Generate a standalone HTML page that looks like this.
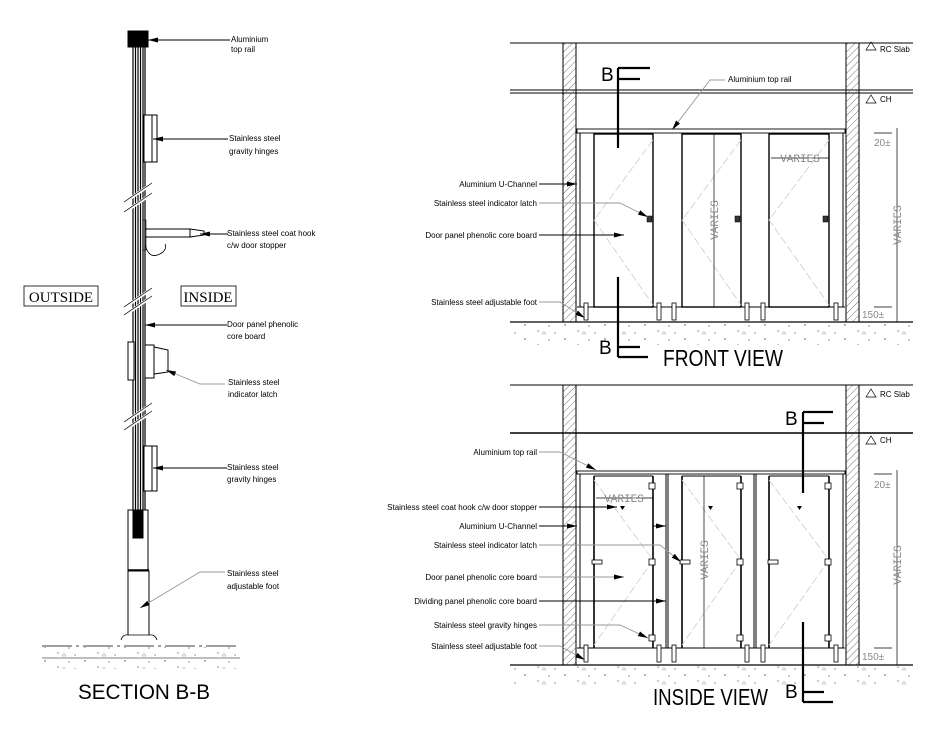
<!DOCTYPE html>
<html><head><meta charset="utf-8"><style>
html,body{margin:0;padding:0;background:#fff}
svg{display:block}
text{font-family:"Liberation Sans",sans-serif}
.l{font-size:8px;fill:#000}
.d{stroke:#ccc;stroke-width:.8;fill:none;stroke-dasharray:8 3}
.v{font-size:11px;fill:#888;font-family:'Liberation Mono',monospace}
</style></head><body>
<svg width="939" height="740" viewBox="0 0 939 740" xmlns="http://www.w3.org/2000/svg">
<defs>
<pattern id="h" width="5" height="5" patternUnits="userSpaceOnUse" patternTransform="rotate(45)"><line x1="0" y1="0" x2="0" y2="5" stroke="#555" stroke-width=".8"/></pattern>
<pattern id="st" width="40" height="14" patternUnits="userSpaceOnUse"><circle cx="5" cy="3" r=".7" fill="#444"/><circle cx="18" cy="9" r=".6" fill="#444"/><circle cx="29" cy="4" r=".6" fill="#444"/><circle cx="35" cy="11" r=".6" fill="#444"/><path d="M22,12 l2,-3 l2,3z" fill="none" stroke="#999" stroke-width=".5"/></pattern>
<marker id="a" markerWidth="10" markerHeight="6" refX="10" refY="3" orient="auto" markerUnits="userSpaceOnUse"><path d="M0,0.5 L10,3 L0,5.5z" fill="#000"/></marker>
</defs>

<!-- ================= SECTION B-B ================= -->
<g stroke="#000" fill="none">
<rect x="133" y="46" width="12" height="466" fill="#fff" stroke-width="1.2"/>
<line x1="135.5" y1="46" x2="135.5" y2="512" stroke-width="1.2"/>
<line x1="138" y1="46" x2="138" y2="512" stroke-width="1.2"/>
<line x1="140.5" y1="46" x2="140.5" y2="512" stroke-width="1.2"/>
<line x1="143" y1="46" x2="143" y2="512" stroke-width="1.2"/>
<rect x="128" y="31" width="20" height="16" fill="#000"/>
<rect x="144" y="115" width="8" height="47" fill="#fff"/><rect x="152" y="115" width="5" height="47" fill="#fff"/>
<rect x="145" y="229" width="45" height="8" fill="#fff"/>
<path d="M190,229 L204,231 L204,235 L190,237z" fill="#fff"/>
<path d="M145,244 q4,18 18,8 q4,-4 2,-8" stroke-width=".8"/>
<rect x="143" y="220" width="3" height="30" stroke-width=".6"/>
<rect x="128" y="342" width="6" height="38" fill="#fff"/>
<rect x="145" y="345" width="9" height="33" fill="#fff"/>
<path d="M154,347 L168,350 L168,372 L154,374z" fill="#fff"/>
<rect x="144" y="446" width="8" height="45" fill="#fff"/><rect x="152" y="446" width="5" height="45" fill="#fff"/>
<rect x="128" y="510" width="20" height="60" fill="#fff"/>
<rect x="133" y="510" width="10" height="28" fill="#000"/>
<line x1="128" y1="570" x2="149" y2="570" stroke-width="1.5"/>
<rect x="128" y="571" width="21" height="65" fill="#fff"/>
<path d="M121,640 q2,-6 7,-5 L149,635 q6,-1 8,5" fill="#fff" stroke-width=".8"/>
<line x1="42" y1="646" x2="240" y2="646" stroke-width=".8" stroke-dasharray="30 4 3 4"/>
<line x1="42" y1="658" x2="240" y2="658" stroke-width=".6"/>
</g>
<rect x="42" y="647" width="198" height="22" fill="url(#st)"/>
<g stroke="#fff" stroke-width="3">
<line x1="128" y1="200" x2="150" y2="185"/><line x1="128" y1="210" x2="150" y2="195"/>
<line x1="128" y1="305" x2="150" y2="290"/><line x1="128" y1="313" x2="150" y2="298"/>
<line x1="128" y1="420" x2="150" y2="405"/><line x1="128" y1="428" x2="150" y2="413"/>
</g>
<g stroke="#000" stroke-width=".7">
<line x1="124" y1="202" x2="152" y2="183"/><line x1="124" y1="212" x2="152" y2="193"/>
<line x1="124" y1="307" x2="152" y2="288"/><line x1="124" y1="315" x2="152" y2="296"/>
<line x1="124" y1="422" x2="152" y2="403"/><line x1="124" y1="430" x2="152" y2="411"/>
</g>
<g stroke="#000" stroke-width=".9" fill="none" marker-end="url(#a)">
<line x1="230" y1="40" x2="148" y2="40"/>
<line x1="228" y1="139" x2="153" y2="139"/>
<line x1="228" y1="234" x2="200" y2="234"/>
<line x1="227" y1="325" x2="145" y2="325"/>
<polyline points="225,384 200,384 166,370" stroke="#999"/>
<line x1="227" y1="468" x2="153" y2="468"/>
<polyline points="225,572 200,572 140,608" stroke="#999"/>
</g>
<g class="l">
<text x="231" y="42">Aluminium</text><text x="231" y="52">top rail</text>
<text x="229" y="141">Stainless steel</text><text x="229" y="154">gravity hinges</text>
<text x="227" y="236">Stainless steel coat hook</text><text x="227" y="248">c/w door stopper</text>
<text x="227" y="327">Door panel phenolic</text><text x="227" y="339">core board</text>
<text x="228" y="385">Stainless steel</text><text x="228" y="397">indicator latch</text>
<text x="227" y="470">Stainless steel</text><text x="227" y="482">gravity hinges</text>
<text x="227" y="576">Stainless steel</text><text x="227" y="589">adjustable foot</text>
</g>
<rect x="24" y="286" width="74" height="20" fill="none" stroke="#000" stroke-width=".8"/>
<text x="61" y="302" text-anchor="middle" style="font-family:'Liberation Serif',serif;font-size:15px">OUTSIDE</text>
<rect x="181" y="286" width="55" height="20" fill="none" stroke="#000" stroke-width=".8"/>
<text x="208" y="302" text-anchor="middle" style="font-family:'Liberation Serif',serif;font-size:15px">INSIDE</text>
<text x="144" y="699" text-anchor="middle" style="font-size:21px" textLength="132" lengthAdjust="spacingAndGlyphs">SECTION B-B</text>

<!-- ================= FRONT VIEW ================= -->
<g stroke="#000" fill="none">
<line x1="510" y1="43" x2="913" y2="43" stroke-width="1"/>
<line x1="510" y1="90" x2="913" y2="90" stroke-width="1"/>
<line x1="510" y1="93" x2="913" y2="93" stroke-width="1"/>
<rect x="563" y="43" width="13" height="279" fill="url(#h)" stroke-width="1"/>
<rect x="846" y="43" width="13" height="279" fill="url(#h)" stroke-width="1"/>
<rect x="577" y="129" width="268" height="4" stroke-width=".9"/>
<line x1="580" y1="133" x2="580" y2="307"/><line x1="843" y1="133" x2="843" y2="307"/>
<line x1="577" y1="307" x2="845" y2="307"/>
<rect x="594" y="134" width="59" height="173" stroke-width="1.4"/>
<rect x="682" y="134" width="59" height="173" stroke-width="1.4"/>
<rect x="769" y="134" width="60" height="173" stroke-width="1.4"/>
<line x1="510" y1="322" x2="913" y2="322" stroke-width="1.2"/>
</g>
<rect x="510" y="323" width="400" height="22" fill="url(#st)"/>
<g class="d">
<polyline points="653,140 594,220 653,305"/><polyline points="741,140 682,220 741,305"/><polyline points="829,140 769,220 829,305"/>
</g>
<g fill="#fff" stroke="#000" stroke-width=".8">
<rect x="584" y="303" width="4" height="17"/><rect x="657" y="303" width="4" height="17"/><rect x="672" y="303" width="4" height="17"/>
<rect x="745" y="303" width="4" height="17"/><rect x="761" y="303" width="4" height="17"/><rect x="834" y="303" width="4" height="17"/>
</g>
<g fill="#333" stroke="#000" stroke-width=".5"><rect x="647" y="216" width="5" height="6"/><rect x="735" y="216" width="5" height="6"/><rect x="823" y="216" width="5" height="6"/></g>
<g stroke="#000" fill="none" stroke-width="2.2">
<line x1="618" y1="68" x2="618" y2="148"/><line x1="618" y1="68" x2="650" y2="68"/><line x1="618" y1="79" x2="640" y2="79"/>
<line x1="618" y1="277" x2="618" y2="357"/><line x1="618" y1="357" x2="648" y2="357"/><line x1="618" y1="347" x2="640" y2="347"/>
</g>
<text x="601" y="81" style="font-size:19px">B</text>
<text x="599" y="354" style="font-size:19px">B</text>
<text x="663" y="366" style="font-size:23px" textLength="120" lengthAdjust="spacingAndGlyphs">FRONT VIEW</text>
<g stroke="#000" stroke-width=".9" fill="none" marker-end="url(#a)">
<line x1="539" y1="184" x2="577" y2="184"/>
<polyline points="539,203 620,203 648,217" stroke="#999"/>
<line x1="539" y1="235" x2="624" y2="235"/>
<polyline points="539,302 560,302 585,318" stroke="#999"/>
<polyline points="725,80 710,80 672,130" stroke="#999"/>
</g>
<g class="l" text-anchor="end">
<text x="537" y="187">Aluminium U-Channel</text>
<text x="537" y="206">Stainless steel indicator latch</text>
<text x="537" y="238">Door panel phenolic core board</text>
<text x="537" y="305">Stainless steel adjustable foot</text>
</g>
<text x="728" y="82" class="l">Aluminium top rail</text>
<g stroke="#000" stroke-width=".7" fill="none">
<path d="M866,50 l5,-8 l5,8z"/><path d="M866,103 l5,-8 l5,8z"/>
<line x1="897" y1="128" x2="897" y2="322"/>
<line x1="874" y1="133" x2="892" y2="133"/><line x1="874" y1="307" x2="892" y2="307"/>
<line x1="714" y1="134" x2="714" y2="307"/>
<line x1="771" y1="158" x2="829" y2="158"/>
</g>
<text x="874" y="146" style="font-size:10px;fill:#888">20±</text>
<text x="862" y="318" style="font-size:10px;fill:#888">150±</text>
<text x="880" y="52" class="l">RC Slab</text><text x="880" y="102" class="l">CH</text>
<text x="800" y="162" text-anchor="middle" class="v">VARIES</text>
<text transform="translate(718,220) rotate(-90)" text-anchor="middle" class="v">VARIES</text>
<text transform="translate(901,225) rotate(-90)" text-anchor="middle" class="v">VARIES</text>

<!-- INSIDE VIEW -->
<g stroke="#000" fill="none">
<line x1="510" y1="385" x2="913" y2="385" stroke-width="1"/>
<line x1="510" y1="433" x2="913" y2="433" stroke-width="1.6"/>
<rect x="563" y="385" width="13" height="280" fill="url(#h)" stroke-width="1"/>
<rect x="846" y="385" width="13" height="280" fill="url(#h)" stroke-width="1"/>
<rect x="577" y="471" width="268" height="3" stroke-width=".9"/>
<line x1="580" y1="474" x2="580" y2="648"/><line x1="843" y1="474" x2="843" y2="648"/>
<line x1="577" y1="648" x2="845" y2="648"/>
<line x1="594" y1="476" x2="653" y2="476"/><line x1="682" y1="476" x2="741" y2="476"/><line x1="769" y1="476" x2="829" y2="476"/>
<g stroke-width="1.6">
<line x1="594" y1="476" x2="594" y2="648"/><line x1="653" y1="476" x2="653" y2="648"/>
<line x1="682" y1="476" x2="682" y2="648"/><line x1="741" y1="476" x2="741" y2="648"/>
<line x1="769" y1="476" x2="769" y2="648"/><line x1="829" y1="476" x2="829" y2="648"/>
</g>
<line x1="666" y1="474" x2="666" y2="648"/><line x1="668" y1="474" x2="668" y2="648"/>
<line x1="754" y1="474" x2="754" y2="648"/><line x1="756" y1="474" x2="756" y2="648"/>
<line x1="510" y1="665" x2="913" y2="665" stroke-width="1.2"/>
</g>
<rect x="510" y="666" width="400" height="22" fill="url(#st)"/>
<g class="d">
<polyline points="594,480 653,560 594,645"/><polyline points="682,480 741,560 682,645"/><polyline points="769,480 829,560 769,645"/>
</g>
<g fill="#fff" stroke="#000" stroke-width=".8">
<rect x="584" y="645" width="4" height="17"/><rect x="657" y="645" width="4" height="17"/><rect x="672" y="645" width="4" height="17"/>
<rect x="745" y="645" width="4" height="17"/><rect x="761" y="645" width="4" height="17"/><rect x="834" y="645" width="4" height="17"/>
<rect x="649" y="483" width="6" height="6"/><rect x="737" y="483" width="6" height="6"/><rect x="825" y="483" width="6" height="6"/>
<rect x="649" y="559" width="6" height="6"/><rect x="737" y="559" width="6" height="6"/><rect x="825" y="559" width="6" height="6"/>
<rect x="649" y="635" width="6" height="6"/><rect x="737" y="635" width="6" height="6"/><rect x="825" y="635" width="6" height="6"/>
<rect x="592" y="560" width="10" height="4"/><rect x="680" y="560" width="10" height="4"/><rect x="768" y="560" width="10" height="4"/>
</g>
<g fill="#000"><path d="M620,506 h5 l-2.5,4z"/><path d="M708,506 h5 l-2.5,4z"/><path d="M797,506 h5 l-2.5,4z"/></g>
<g stroke="#000" fill="none" stroke-width="2.2">
<line x1="803" y1="412" x2="803" y2="493"/><line x1="803" y1="412" x2="833" y2="412"/><line x1="803" y1="423" x2="824" y2="423"/>
<line x1="803" y1="622" x2="803" y2="702"/><line x1="803" y1="702" x2="833" y2="702"/><line x1="803" y1="692" x2="824" y2="692"/>
</g>
<text x="785" y="425" style="font-size:19px">B</text>
<text x="785" y="698" style="font-size:19px">B</text>
<text x="653" y="705" style="font-size:23px" textLength="115" lengthAdjust="spacingAndGlyphs">INSIDE VIEW</text>
<g stroke="#000" stroke-width=".9" fill="none" marker-end="url(#a)">
<polyline points="539,452 560,452 596,470" stroke="#999"/>
<line x1="539" y1="507" x2="617" y2="507"/>
<line x1="539" y1="526" x2="577" y2="526"/>
<line x1="653" y1="526" x2="666" y2="526"/>
<polyline points="539,545 660,545 681,562" stroke="#999"/>
<line x1="539" y1="577" x2="624" y2="577" stroke="#999"/>
<line x1="539" y1="601" x2="666" y2="601"/>
<polyline points="539,625 620,625 648,638" stroke="#999"/>
<polyline points="539,646 560,646 585,660" stroke="#999"/>
</g>
<g class="l" text-anchor="end">
<text x="537" y="455">Aluminium top rail</text>
<text x="537" y="510">Stainless steel coat hook c/w door stopper</text>
<text x="537" y="529">Aluminium U-Channel</text>
<text x="537" y="548">Stainless steel indicator latch</text>
<text x="537" y="580">Door panel phenolic core board</text>
<text x="537" y="604">Dividing panel phenolic core board</text>
<text x="537" y="628">Stainless steel gravity hinges</text>
<text x="537" y="649">Stainless steel adjustable foot</text>
</g>
<g stroke="#000" stroke-width=".7" fill="none">
<path d="M866,397 l5,-8 l5,8z"/><path d="M866,444 l5,-8 l5,8z"/>
<line x1="897" y1="470" x2="897" y2="665"/>
<line x1="874" y1="474" x2="892" y2="474"/><line x1="874" y1="648" x2="892" y2="648"/>
<line x1="704" y1="476" x2="704" y2="648"/>
<line x1="596" y1="498" x2="653" y2="498"/>
</g>
<text x="880" y="397" class="l">RC Slab</text><text x="880" y="443" class="l">CH</text>
<text x="874" y="488" style="font-size:10px;fill:#888">20±</text>
<text x="862" y="660" style="font-size:10px;fill:#888">150±</text>
<text x="624" y="502" text-anchor="middle" class="v">VARIES</text>
<text transform="translate(708,560) rotate(-90)" text-anchor="middle" class="v">VARIES</text>
<text transform="translate(901,565) rotate(-90)" text-anchor="middle" class="v">VARIES</text>
</svg>
</body></html>
